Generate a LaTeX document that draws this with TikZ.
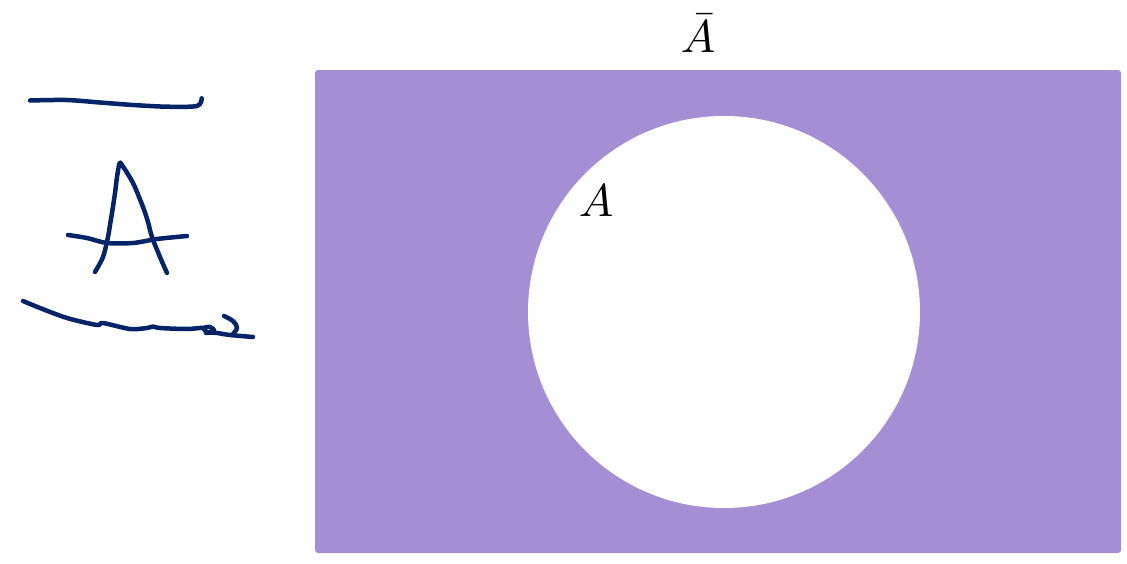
\documentclass[tikz,border=0pt]{standalone}
\usepackage{graphicx}
\begin{document}
\begin{tikzpicture}[x=1pt,y=-1pt,
  universe/.style={fill=setpurple, rounded corners=3pt, inner sep=0pt, minimum width=806pt, minimum height=483pt},
  setA/.style={circle, fill=white, inner sep=0pt, minimum size=392pt},
  lbl/.style={inner sep=0pt, anchor=base},
  ink/.style={draw=inkblue, line width=4.5pt, line cap=round, line join=round}]
\definecolor{setpurple}{RGB}{164,142,212}
\definecolor{inkblue}{RGB}{5,36,104}
\useasboundingbox (0,0) rectangle (1127,563);
\node[universe] (U) at (718,311.5) {};
\node[setA] (Aset) at (724,312) {};
\node[lbl] (Abar) at (698,52) {\scalebox{4.6}{$\bar{A}$}};
\node[lbl] (Alabel) at (596,216) {\scalebox{4.6}{$A$}};
% handwritten overline
\draw[ink] plot[smooth, tension=0.5] coordinates {(30,100.5) (66.7,100) (100,102.5) (133,105) (167,106.7) (197,106) (201.7,98.3)};
% handwritten A
\draw[ink] plot[smooth, tension=0.5] coordinates {(95,272) (103,257) (108,237) (110,225) (112,213) (115,193) (116,185) (117,177) (119.5,163.5) (122,165) (133,183) (143,207) (148,222) (152,237) (160,257) (167,273)};
\draw[ink] plot[smooth, tension=0.5] coordinates {(68,235) (87,238) (107,243) (133,243) (157,239) (187,236)};
% handwritten underline
\draw[ink] plot[smooth, tension=0.5] coordinates {(23,301) (40,308) (67,318) (97,325) (103,323) (130,329) (147,328) (153,326.5) (160,328) (187,329) (203,328) (206,332) (217,333) (230,335) (253,337)};
\draw[ink] plot[smooth, tension=0.6] coordinates {(224,316) (233,321) (237,328) (232,335)};
\draw[ink] plot[smooth, tension=0.6] coordinates {(203,328) (210,327) (214,331) (206,333)};
\end{tikzpicture}
\end{document}
